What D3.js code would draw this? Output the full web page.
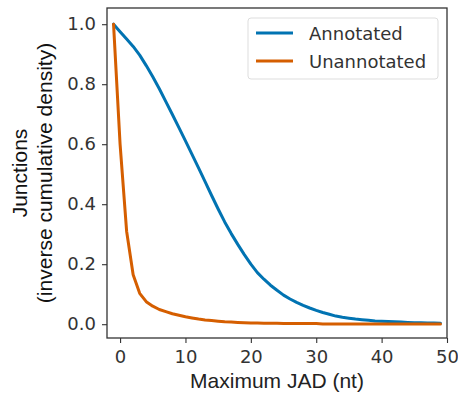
<!DOCTYPE html>
<html>
<head>
<meta charset="utf-8">
<script src="https://cdn.jsdelivr.net/npm/d3@7"></script>
<style>
  body { margin: 0; background: #fff; }
  text { font-family: "Liberation Sans", Arial, sans-serif; }
</style>
</head>
<body>
<svg id="chart" width="458" height="395"></svg>
<script>

// x positions (nt), -1 .. 49
const jadValues = d3.range(-1, 50)

const annotatedValues = [1.000, 0.975, 0.951, 0.926, 0.897, 0.862, 0.825, 0.785, 0.742, 0.699,
  0.655, 0.611, 0.566, 0.521, 0.475, 0.429, 0.384, 0.341, 0.302, 0.266,
  0.232, 0.200, 0.172, 0.150, 0.130, 0.113, 0.097, 0.084, 0.073, 0.063,
  0.054, 0.046, 0.039, 0.033, 0.027, 0.023, 0.020, 0.017, 0.015, 0.013,
  0.011, 0.010, 0.009, 0.008, 0.007, 0.006, 0.005, 0.005, 0.004, 0.004, 0.003]

const unannotatedValues = [1.000, 0.600, 0.310, 0.165, 0.103, 0.075, 0.060, 0.049, 0.042, 0.035,
  0.030, 0.025, 0.021, 0.017, 0.014, 0.012, 0.010, 0.008, 0.007, 0.006,
  0.005, 0.004, 0.004, 0.003, 0.003, 0.003, 0.002, 0.002, 0.002, 0.002,
  0.002, 0.002, 0.001, 0.001, 0.001, 0.001, 0.001, 0.001, 0.001, 0.001,
  0.001, 0.001, 0.001, 0.001, 0.001, 0.001, 0.001, 0.001, 0.001, 0.001, 0.001]

const seriesNames = ["Annotated", "Unannotated"]
const seriesColors = ["#0173b2", "#d55e00"]
const xTicks = [0, 10, 20, 30, 40, 50]
const yTicks = [0.0, 0.2, 0.4, 0.6, 0.8, 1.0]

const margin = { left: 107, right: 11, top: 8, bottom: 57 }
const width = 458 - margin.left - margin.right
const height = 395 - margin.top - margin.bottom

var svg = d3.select("#chart")
var g = svg.append("g")
           .attr("transform", "translate(" + margin.left + "," + margin.top + ")")

var x = d3.scaleLinear()
          .domain([-2, 50])
          .range([0, width])

var y = d3.scaleLinear()
          .domain([-0.046, 1.054])
          .range([height, 0])

// axes
var xAxis = g.append("g")
             .attr("transform", "translate(0," + height + ")")
             .call(d3.axisBottom(x).tickValues(xTicks).tickFormat(d3.format("d")).tickSize(5).tickPadding(6))

var yAxis = g.append("g")
             .call(d3.axisLeft(y).tickValues(yTicks).tickFormat(d3.format(".1f")).tickSize(5).tickPadding(6))

svg.selectAll(".tick text")
   .attr("font-size", 18)
   .attr("fill", "#333")
   .style("font-family", "'DejaVu Sans', sans-serif")

xAxis.selectAll(".tick text").attr("dy", "0.8em")
svg.selectAll(".tick line").attr("stroke", "#333").attr("stroke-width", 1.1)
svg.selectAll(".domain").remove()

// frame
g.append("rect")
 .attr("width", width)
 .attr("height", height)
 .attr("fill", "none")
 .attr("stroke", "#333")
 .attr("stroke-width", 1.3)

// lines
var line = d3.line()
             .x((d, i) => x(jadValues[i]))
             .y(d => y(d))

var allSeries = [annotatedValues, unannotatedValues]

g.selectAll(".series")
 .data(allSeries)
 .enter()
 .append("path")
 .attr("class", "series")
 .attr("d", line)
 .attr("fill", "none")
 .attr("stroke", (d, i) => seriesColors[i])
 .attr("stroke-width", 3)
 .attr("stroke-linejoin", "round")
 .attr("stroke-linecap", "round")

// axis labels
svg.append("text")
   .attr("x", margin.left + width / 2)
   .attr("y", 388)
   .attr("text-anchor", "middle")
   .attr("font-size", 21)
   .attr("fill", "#222")
   .text("Maximum JAD (nt)")

var yLabel = svg.append("text")
                .attr("transform", "translate(27," + (margin.top + height / 2) + ") rotate(-90)")
                .attr("text-anchor", "middle")
                .attr("font-size", 21)
                .attr("fill", "#111")

yLabel.append("tspan").attr("x", 0).attr("y", 0).text("Junctions")
yLabel.append("tspan").attr("x", 0).attr("y", 25).text("(inverse cumulative density)")

// legend
var legend = svg.append("g")

legend.append("rect")
      .attr("x", 248)
      .attr("y", 18)
      .attr("width", 190)
      .attr("height", 61)
      .attr("rx", 3)
      .attr("fill", "#fff")
      .attr("stroke", "#ddd")

var legendItems = legend.selectAll(".item")
                        .data(seriesNames)
                        .enter()
                        .append("g")
                        .attr("class", "item")
                        .attr("transform", (d, i) => "translate(0," + (33 + i * 28) + ")")

legendItems.append("line")
           .attr("x1", 256)
           .attr("x2", 293)
           .attr("stroke", (d, i) => seriesColors[i])
           .attr("stroke-width", 3)

legendItems.append("text")
           .attr("x", 309)
           .attr("y", 6.5)
           .attr("font-size", 18)
           .attr("fill", "#333")
           .style("font-family", "'DejaVu Sans', sans-serif")
           .text(d => d)

</script>
</body>
</html>
